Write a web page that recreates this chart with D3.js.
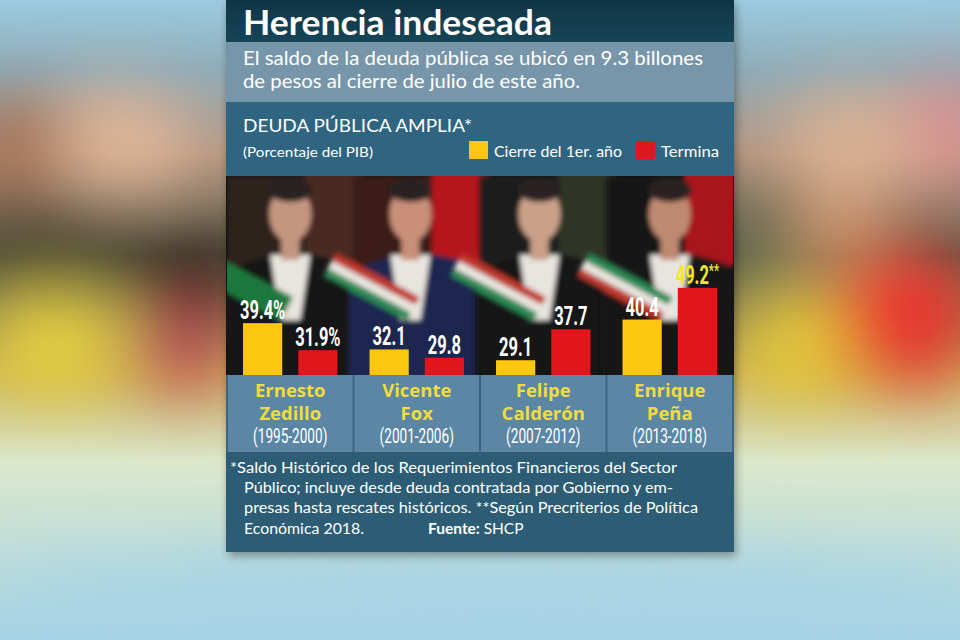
<!DOCTYPE html>
<html><head><meta charset="utf-8">
<script src="https://cdn.jsdelivr.net/npm/d3@7"></script>
<style>body{margin:0;background:#9fcde0;} svg{display:block}</style>
</head><body>
<svg id="chart" width="960" height="640"></svg>
<script>
// data
var firstNames = ["Ernesto", "Vicente", "Felipe", "Enrique"];
var lastNames = ["Zedillo", "Fox", "Calderón", "Peña"];
var periods = ["(1995-2000)", "(2001-2006)", "(2007-2012)", "(2013-2018)"];
var seriesNames = ["Cierre del 1er. año", "Termina"];
var firstYear = [39.4, 32.1, 29.1, 40.4];
var endTerm = [31.9, 29.8, 37.7, 49.2];
var seriesColors = ["#fcc70c", "#e2151b"];

var W = 960, H = 640;
var px0 = 226, px1 = 734;
var svg = d3.select("#chart");
var defs = svg.append("defs");

//blurred backdrop
var bf = defs.append("filter").attr("id", "bigblur").attr("x", "-50%").attr("y", "-50%").attr("width", "200%").attr("height", "200%");
bf.append("feGaussianBlur").attr("stdDeviation", 34);
var sf = defs.append("filter").attr("id", "soft");
sf.append("feGaussianBlur").attr("stdDeviation", 2.5);
var shf = defs.append("filter").attr("id", "shadow").attr("x", "-10%").attr("y", "-10%").attr("width", "120%").attr("height", "120%");
shf.append("feGaussianBlur").attr("stdDeviation", 5);

var bgGrad = defs.append("linearGradient").attr("id", "bgGrad").attr("x1", 0).attr("y1", 0).attr("x2", 0).attr("y2", 1);
bgGrad.append("stop").attr("offset", "0%").attr("stop-color", "#9ccbe0");
bgGrad.append("stop").attr("offset", "11%").attr("stop-color", "#8eabb8");
bgGrad.append("stop").attr("offset", "24%").attr("stop-color", "#b49580");
bgGrad.append("stop").attr("offset", "40%").attr("stop-color", "#5c5a46");
bgGrad.append("stop").attr("offset", "58%").attr("stop-color", "#c8ae5c");
bgGrad.append("stop").attr("offset", "72%").attr("stop-color", "#dce8cc");
bgGrad.append("stop").attr("offset", "100%").attr("stop-color", "#a4d2e6");
svg.append("rect").attr("width", W).attr("height", H).attr("fill", "url(#bgGrad)");

var blobs = svg.append("g").attr("filter", "url(#bigblur)");
[[115, 140, 80, 50, "#e2b99b"], [20, 145, 50, 45, "#a06a4e"], [60, 240, 100, 30, "#3e3d2c"], [195, 275, 50, 40, "#2e2018"],
 [55, 345, 70, 50, "#e8d43c"], [180, 350, 50, 40, "#c24c58"],
 [850, 140, 70, 50, "#dcb597"], [950, 130, 40, 60, "#e08f92"], [760, 250, 40, 50, "#5e6e52"], [840, 225, 50, 30, "#e2a070"],
 [800, 345, 60, 55, "#e8cd38"], [905, 315, 70, 70, "#ec302d"], [500, 600, 500, 40, "#a6d3e6"]]
  .forEach(function(b) {
    blobs.append("ellipse").attr("cx", b[0]).attr("cy", b[1]).attr("rx", b[2]).attr("ry", b[3]).attr("fill", b[4]);
  });

//panel shadow
svg.append("rect").attr("x", px0 + 2).attr("y", 4).attr("width", px1 - px0).attr("height", 552)
  .attr("fill", "#000").attr("opacity", 0.35).attr("filter", "url(#shadow)");

//bands
var tg = defs.append("linearGradient").attr("id", "titleGrad").attr("x1", 0).attr("y1", 0).attr("x2", 0).attr("y2", 1);
tg.append("stop").attr("offset", "0%").attr("stop-color", "#0f3545");
tg.append("stop").attr("offset", "100%").attr("stop-color", "#174557");
svg.append("rect").attr("x", px0).attr("y", 0).attr("width", px1 - px0).attr("height", 42).attr("fill", "url(#titleGrad)");
svg.append("rect").attr("x", px0).attr("y", 42).attr("width", px1 - px0).attr("height", 60).attr("fill", "#7896aa");
svg.append("rect").attr("x", px0).attr("y", 102).attr("width", px1 - px0).attr("height", 74).attr("fill", "#2f6580");
svg.append("rect").attr("x", px0).attr("y", 176).attr("width", px1 - px0).attr("height", 200).attr("fill", "#141414");
svg.append("rect").attr("x", px0).attr("y", 375).attr("width", px1 - px0).attr("height", 77).attr("fill", "#3e6580");
svg.append("rect").attr("x", px0).attr("y", 452).attr("width", px1 - px0).attr("height", 100).attr("fill", "#2c5d75");

function label(g, x, y, s, o) {
  var t = g.append("text").attr("x", x).attr("y", y).text(s)
    .attr("font-family", o.family || "Lato, 'Open Sans', sans-serif")
    .attr("font-size", o.size).attr("font-weight", o.weight || 400)
    .attr("fill", o.fill || "#fff").attr("text-anchor", o.anchor || "start");
  if (o.len) t.attr("textLength", o.len).attr("lengthAdjust", "spacingAndGlyphs");
  return t;
}

//header texts
label(svg, 243, 35, "Herencia indeseada", {size: 34, weight: 700, len: 309});
label(svg, 243, 65, "El saldo de la deuda pública se ubicó en 9.3 billones", {size: 20, len: 460});
label(svg, 243, 88, "de pesos al cierre de julio de este año.", {size: 20, len: 337});
label(svg, 243, 132, "DEUDA PÚBLICA AMPLIA*", {size: 18, len: 229});
label(svg, 243, 157, "(Porcentaje del PIB)", {size: 13.5, len: 130});

//legend
var legend = svg.append("g").selectAll("g").data(seriesNames).enter().append("g")
  .attr("transform", function(d, i) { return "translate(" + [469, 636][i] + ",141)"; });
legend.append("rect").attr("width", 19).attr("height", 18).attr("fill", function(d, i) { return seriesColors[i]; });
legend.each(function(d, i) {
  label(d3.select(this), 25, 16, d, {size: 16, len: [128, 58][i]});
});

//scales
var x0 = d3.scaleBand().domain(lastNames).range([227, 733]);
var x1 = d3.scaleBand().domain(seriesNames).range([0, x0.bandwidth()]).paddingInner(0.29).paddingOuter(0.29);
var y = d3.scaleLinear().domain([25, 50]).range([375, 285]);

//photo placeholders (stylised, blurred)
var clip = defs.append("clipPath").attr("id", "photoClip");
clip.append("rect").attr("x", 227).attr("y", 176).attr("width", 506).attr("height", 199);
var photos = svg.append("g").attr("clip-path", "url(#photoClip)");
var photoStyle = [
  {bg: "#2e221d", accent: "#4a2a22", suit: "#141212", skin: "#c49680", sash: ["#1f7a3e", "#1f7a3e", "#1f7a3e"], fx: 0.5},
  {bg: "#3b1a18", accent: "#b4161a", suit: "#1d2850", skin: "#c98f78", sash: ["#c0392b", "#e9e6e0", "#2a8a55"], fx: 0.45},
  {bg: "#1c1d1c", accent: "#2f3428", suit: "#161616", skin: "#c9a088", sash: ["#c0392b", "#e9e6e0", "#2a8a55"], fx: 0.47},
  {bg: "#151418", accent: "#a8161c", suit: "#121218", skin: "#c08a72", sash: ["#2a8a55", "#e9e6e0", "#c0392b"], fx: 0.5}
];
lastNames.forEach(function(n, i) {
  var x = x0(n), w = x0.bandwidth(), st = photoStyle[i];
  var g = photos.append("g").attr("filter", "url(#soft)");
  g.append("rect").attr("x", x).attr("y", 176).attr("width", w).attr("height", 200).attr("fill", st.bg);
  g.append("rect").attr("x", x + w * 0.62).attr("y", 170).attr("width", w * 0.45).attr("height", 95).attr("fill", st.accent);
  var cx = x + w * st.fx;
  g.append("path").attr("fill", st.suit)
    .attr("d", "M" + (x - 5) + ",380 L" + (x - 5) + ",275 Q" + cx + ",235 " + (x + w + 5) + ",270 L" + (x + w + 5) + ",380 Z");
  g.append("path").attr("fill", "#e8e4df")
    .attr("d", "M" + (cx - 20) + ",255 L" + (cx + 20) + ",255 L" + (cx + 10) + ",320 L" + (cx - 10) + ",320 Z");
  st.sash.forEach(function(c, k) {
    g.append("rect").attr("x", x - 20).attr("y", 262 + k * 9).attr("width", w * 0.75).attr("height", 9)
      .attr("fill", c).attr("transform", "rotate(28," + (x) + ",262)");
  });
  g.append("rect").attr("x", cx - 9).attr("y", 235).attr("width", 18).attr("height", 25).attr("fill", st.skin);
  g.append("ellipse").attr("cx", cx).attr("cy", 214).attr("rx", 21).attr("ry", 28).attr("fill", st.skin);
  g.append("ellipse").attr("cx", cx).attr("cy", 190).attr("rx", 22).attr("ry", 12).attr("fill", "#2a2420");
});

//bars
var cols = svg.append("g").selectAll("g").data(lastNames).enter().append("g")
  .attr("transform", function(d) { return "translate(" + x0(d) + ",0)"; });

function vals(i) { return [firstYear[i], endTerm[i]]; }

cols.each(function(n, i) {
  var g = d3.select(this);
  var v = vals(i);
  g.selectAll("rect.bar").data(v).enter().append("rect").attr("class", "bar")
    .attr("x", function(d, k) { return x1(seriesNames[k]); })
    .attr("y", function(d) { return y(d); })
    .attr("width", x1.bandwidth())
    .attr("height", function(d) { return y(25) - y(d); })
    .attr("fill", function(d, k) { return seriesColors[k]; });
  g.selectAll("g.val").data(v).enter().append("g").attr("class", "val")
    .attr("transform", function(d, k) { return "translate(" + (x1(seriesNames[k]) + x1.bandwidth() / 2) + "," + (y(d) - 4) + ") scale(0.66,1)"; })
    .each(function(d, k) {
      var isNote = (i === 3 && k === 1);
      var t = d3.select(this).append("text").attr("text-anchor", "middle")
        .attr("font-family", "Roboto, 'Open Sans', sans-serif").attr("font-weight", 700).attr("font-size", 25)
        .attr("fill", isNote ? "#f4e623" : "#fff");
      t.append("tspan").text(d3.format(".1f")(d) + (i === 0 ? "%" : ""));
      if (isNote) t.append("tspan").attr("font-size", 17).attr("dy", -8).text("**");
    });
});

//name boxes
cols.append("rect").attr("x", 1).attr("y", 375).attr("width", x0.bandwidth() - 2).attr("height", 77).attr("fill", "#5b87a5");
cols.each(function(n, i) {
  var g = d3.select(this), c = x0.bandwidth() / 2;
  label(g, c, 397, firstNames[i], {size: 18.5, weight: 700, fill: "#f1dc3e", anchor: "middle", family: "'Open Sans', sans-serif"});
  label(g, c, 420, lastNames[i], {size: 18.5, weight: 700, fill: "#f1dc3e", anchor: "middle", family: "'Open Sans', sans-serif"});
  g.append("text").attr("transform", "translate(" + c + ",443) scale(0.68,1)").attr("text-anchor", "middle")
    .attr("font-family", "Roboto, sans-serif").attr("font-size", 20).attr("fill", "#fff").text(periods[i]);
});

//footnote
var notes = [
  [230, 473, "*Saldo Histórico de los Requerimientos Financieros del Sector", 447],
  [244, 493, "Público; incluye desde deuda contratada por Gobierno y em-", 429],
  [244, 513, "presas hasta rescates históricos. **Según Precriterios de Política", 454],
  [244, 534, "Económica 2018.", 120]
];
notes.forEach(function(l) { label(svg, l[0], l[1], l[2], {size: 15.5, len: l[3]}); });
var f = label(svg, 428, 534, "", {size: 15.5});
f.append("tspan").attr("font-weight", 700).text("Fuente: ");
f.append("tspan").text("SHCP");
</script>
</body></html>
